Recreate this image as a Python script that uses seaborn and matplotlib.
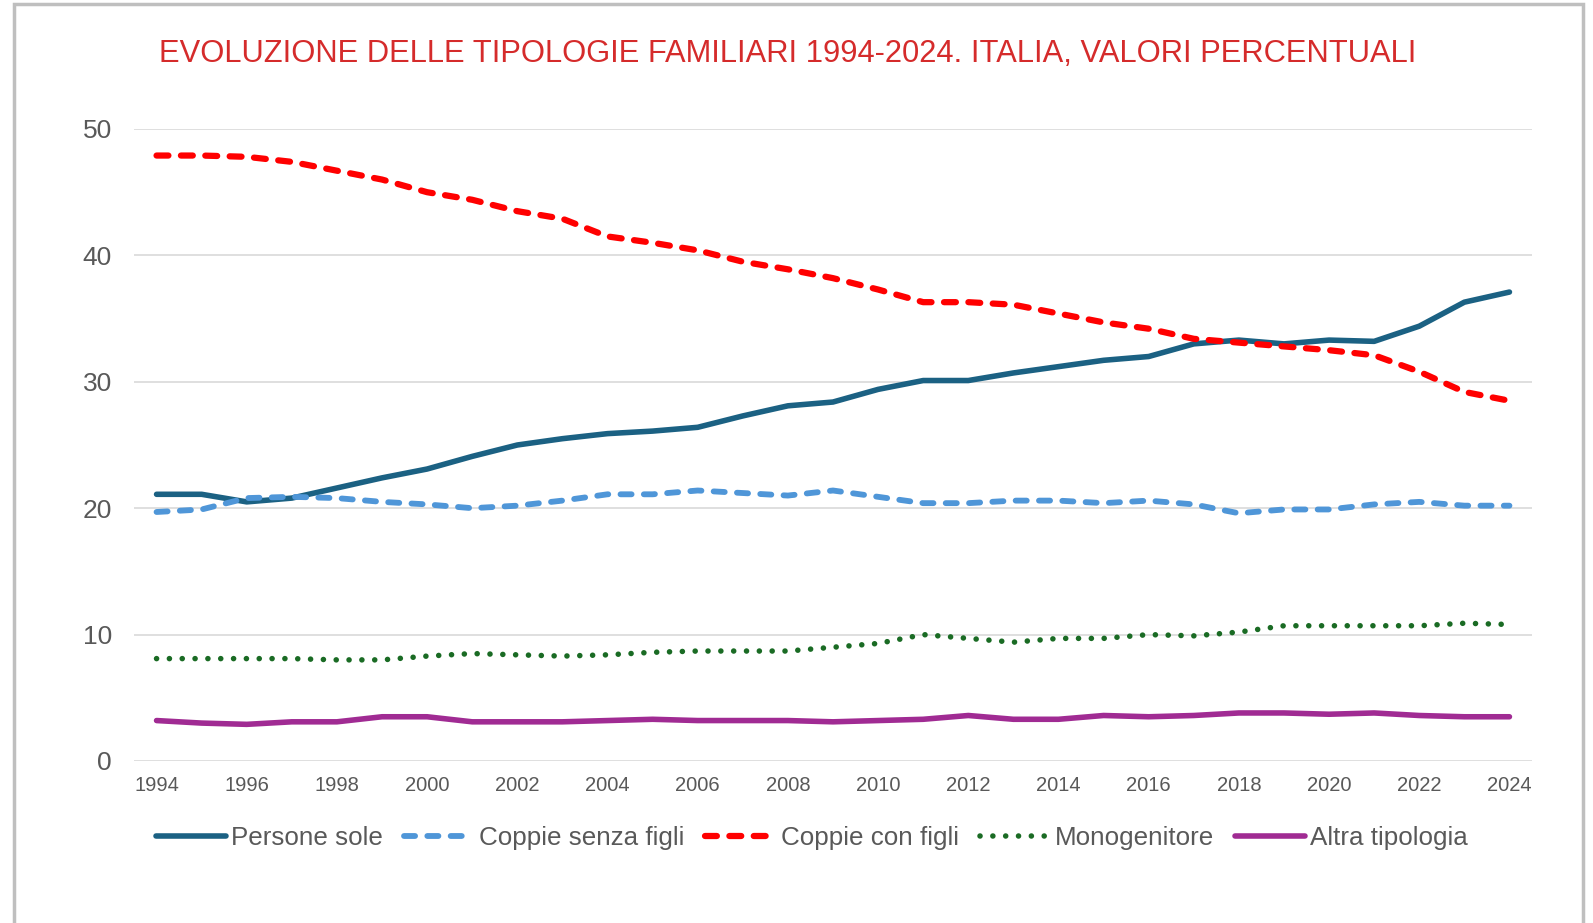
import matplotlib.pyplot as plt
import seaborn as sns
from matplotlib.patches import Rectangle

years = list(range(1994, 2025))
persone_sole = [21.1, 21.1, 20.5, 20.8, 21.6, 22.4, 23.1, 24.1, 25.0, 25.5, 25.9,
                26.1, 26.4, 27.3, 28.1, 28.4, 29.4, 30.1, 30.1, 30.7, 31.2,
                31.7, 32.0, 33.0, 33.3, 33.0, 33.3, 33.2, 34.4, 36.3, 37.1]
coppie_senza_figli = [19.7, 19.9, 20.8, 20.9, 20.8, 20.5, 20.3, 20.0, 20.2, 20.6, 21.1,
                      21.1, 21.4, 21.2, 21.0, 21.4, 20.9, 20.4, 20.4, 20.6, 20.6,
                      20.4, 20.6, 20.3, 19.6, 19.9, 19.9, 20.3, 20.5, 20.2, 20.2]
coppie_con_figli = [47.9, 47.9, 47.8, 47.4, 46.7, 46.0, 45.0, 44.4, 43.5, 42.9, 41.5,
                    41.0, 40.4, 39.5, 38.9, 38.2, 37.3, 36.3, 36.3, 36.1, 35.4,
                    34.7, 34.2, 33.4, 33.1, 32.8, 32.5, 32.1, 30.8, 29.2, 28.5]
monogenitore = [8.1, 8.1, 8.1, 8.1, 8.0, 8.0, 8.3, 8.5, 8.4, 8.3, 8.4,
                8.6, 8.7, 8.7, 8.7, 9.0, 9.3, 10.0, 9.7, 9.4, 9.7,
                9.7, 10.0, 9.9, 10.2, 10.7, 10.7, 10.7, 10.7, 10.9, 10.8]
altra_tipologia = [3.2, 3.0, 2.9, 3.1, 3.1, 3.5, 3.5, 3.1, 3.1, 3.1, 3.2,
                   3.3, 3.2, 3.2, 3.2, 3.1, 3.2, 3.3, 3.6, 3.3, 3.3,
                   3.6, 3.5, 3.6, 3.8, 3.8, 3.7, 3.8, 3.6, 3.5, 3.5]

sns.set_style("white")
plt.rcParams['font.family'] = ['Liberation Sans', 'DejaVu Sans']
grey = '#595959'

fig = plt.figure(figsize=(15.93, 9.23), dpi=100)
ax = fig.add_axes([134/1593, 1-761/923, (1532-134)/1593, (761-129)/923])

# (label, values, colour, width, dash pattern or None)
series = [
    ('Persone sole', persone_sole, '#1B6183', 4.0, None),
    ('Coppie senza figli', coppie_senza_figli, '#4F96D8', 4.2, (1.9, 2.1)),
    ('Coppie con figli', coppie_con_figli, '#FF0000', 4.5, (1.9, 2.0)),
    ('Monogenitore', monogenitore, '#1A6B24', 4.0, (0.01, 2.3)),
    ('Altra tipologia', altra_tipologia, '#A02B93', 4.0, None),
]
for label, vals, col, lw, dash in series:
    sns.lineplot(x=years, y=vals, ax=ax, color=col, lw=lw, label=label)
    line = ax.lines[-1]
    line.set_solid_capstyle('round')
    line.set_dash_capstyle('round')
    if dash is not None:
        line.set_dashes(dash)

ax.set_xlim(1993.5, 2024.5)
ax.set_ylim(0, 50)
ax.set_xticks(range(1994, 2025, 2))
ax.set_yticks(range(0, 51, 10))
ax.grid(axis='y', color='#d9d9d9', lw=1.2)
ax.grid(axis='x', visible=False)
for s in ['top', 'right', 'left', 'bottom']:
    ax.spines[s].set_visible(False)
ax.tick_params(axis='x', labelsize=14.5, colors=grey, length=0, pad=11)
ax.tick_params(axis='y', labelsize=19, colors=grey, length=0, pad=16)
ax.set_xlabel('')
ax.set_ylabel('')

handles, labels = ax.get_legend_handles_labels()
ax.legend_.remove()
fig.legend(handles, labels, loc='center', bbox_to_anchor=(812/1593, 1-838/923),
           ncol=5, frameon=False, fontsize=18.7, handlelength=2.7, handletextpad=0.2,
           columnspacing=0.8, labelcolor=grey)

fig.text(788/1593, 1-54/923, 'EVOLUZIONE DELLE TIPOLOGIE FAMILIARI 1994-2024. ITALIA, VALORI PERCENTUALI',
         ha='center', va='center', fontsize=22.2, color='#D52B2B')

# grey frame round the chart
fig.patches.append(Rectangle((14/1593, -0.05), (1583-14)/1593, 1.05-4/923,
                             transform=fig.transFigure, fill=False,
                             edgecolor='#bfbfbf', lw=2.5))

fig.savefig('out.png', dpi=100)
